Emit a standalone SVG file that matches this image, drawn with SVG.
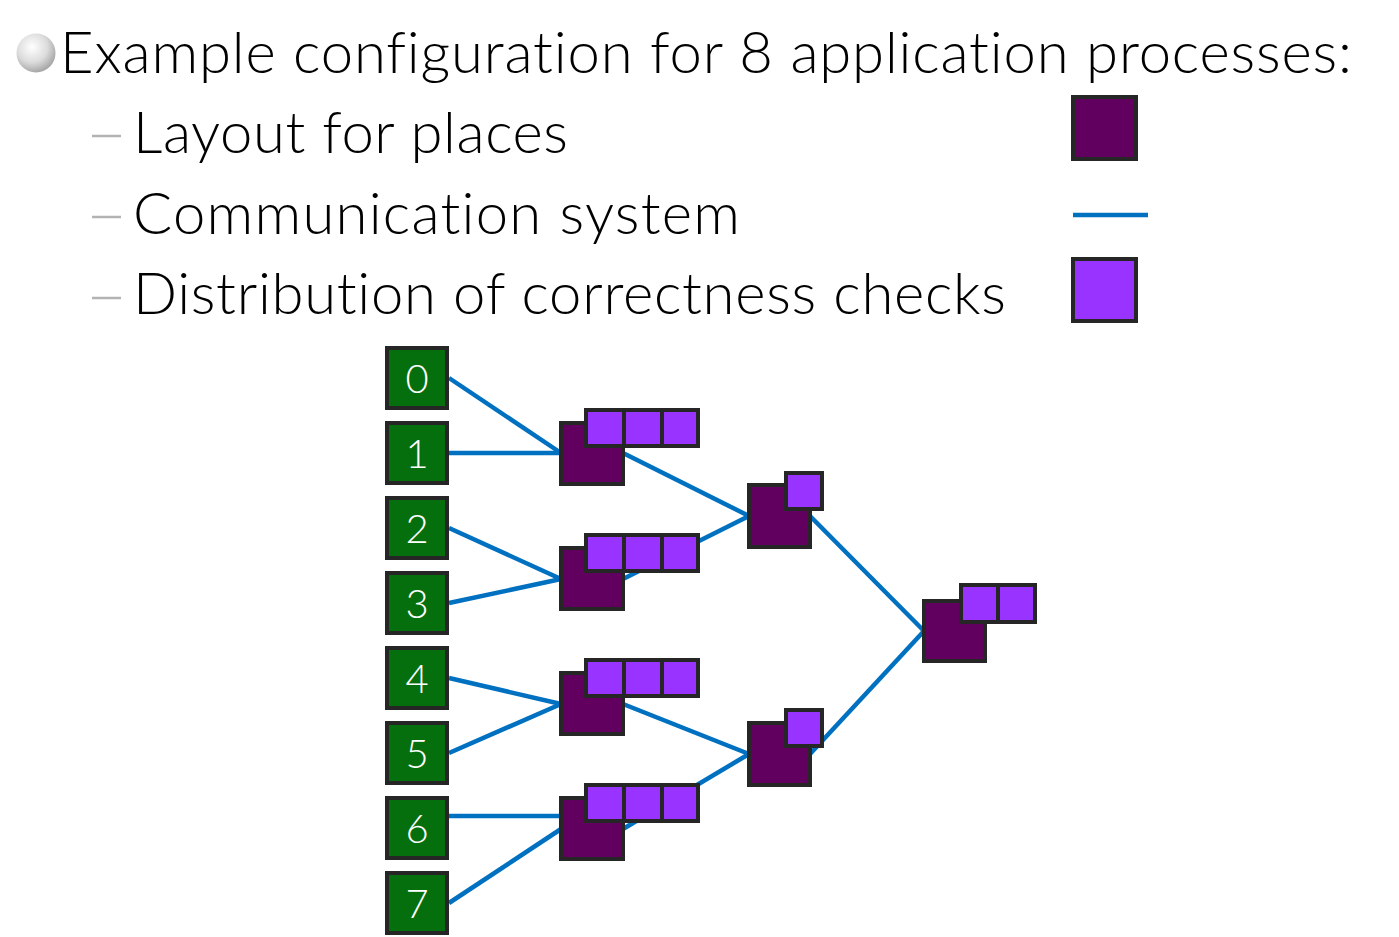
<svg xmlns="http://www.w3.org/2000/svg" width="1399" height="937" viewBox="0 0 1399 937">
<defs>
<radialGradient id="ball" cx="0.4" cy="0.35" r="0.65">
<stop offset="0" stop-color="#ffffff"/>
<stop offset="0.6" stop-color="#dcdcdc"/>
<stop offset="1" stop-color="#a8a8a8"/>
</radialGradient>
</defs>
<style>
.t{font-family:Lato,"Liberation Sans",Arial,sans-serif;font-weight:300;font-size:58px;fill:#000;font-variant-ligatures:none;font-feature-settings:"liga" 0,"dlig" 0,"clig" 0}
.dash{stroke:#b3b3b3;stroke-width:2.5}
.proc{fill:#066F0D;stroke:#262626;stroke-width:4}
.num{font-family:Lato,"Liberation Sans",Arial,sans-serif;font-weight:300;font-size:40px;fill:#fff;text-anchor:middle}
.place{fill:#620060;stroke:#262626;stroke-width:4}
.chk{fill:#9933FF;stroke:#262626;stroke-width:4}
.c{stroke:#0070C0;stroke-width:4.5;fill:none}
</style>
<rect width="1399" height="937" fill="#fff"/>
<g id="text">
<circle cx="36" cy="53" r="19.5" fill="url(#ball)"/>
<text class="t" x="60" y="73" textLength="1292" lengthAdjust="spacing">Example configuration for 8 application processes:</text>
<line class="dash" x1="92" y1="136" x2="121" y2="136"/>
<text class="t" x="133" y="153" textLength="435" lengthAdjust="spacing">Layout for places</text>
<line class="dash" x1="92" y1="217" x2="121" y2="217"/>
<text class="t" x="133" y="234" textLength="607" lengthAdjust="spacing">Communication system</text>
<line class="dash" x1="92" y1="298" x2="121" y2="298"/>
<text class="t" x="133" y="314" textLength="873" lengthAdjust="spacing">Distribution of correctness checks</text>
</g>
<g id="legend">
<rect class="place" x="1073" y="97" width="63" height="62"/>
<line class="c" x1="1073" y1="215" x2="1148" y2="215"/>
<rect class="chk" x="1073" y="259" width="63" height="62"/>
</g>
<g id="connectors">
<line class="c" x1="449" y1="378" x2="561" y2="453"/>
<line class="c" x1="449" y1="453" x2="561" y2="453"/>
<line class="c" x1="449" y1="528" x2="561" y2="579"/>
<line class="c" x1="449" y1="603" x2="561" y2="579"/>
<line class="c" x1="449" y1="678" x2="561" y2="704"/>
<line class="c" x1="449" y1="753" x2="561" y2="704"/>
<line class="c" x1="449" y1="816" x2="561" y2="816"/>
<line class="c" x1="449" y1="903" x2="561" y2="829"/>
<line class="c" x1="623" y1="453" x2="749" y2="516"/>
<line class="c" x1="623" y1="579" x2="749" y2="516"/>
<line class="c" x1="623" y1="704" x2="749" y2="754"/>
<line class="c" x1="623" y1="829" x2="749" y2="754"/>
<line class="c" x1="810" y1="516" x2="924" y2="631"/>
<line class="c" x1="810" y1="754" x2="924" y2="631"/>
</g>
<g id="p0"><rect class="proc" x="387" y="348" width="60" height="60"/><text class="num" x="417" y="393">0</text></g>
<g id="p1"><rect class="proc" x="387" y="423" width="60" height="60"/><text class="num" x="417" y="468">1</text></g>
<g id="p2"><rect class="proc" x="387" y="498" width="60" height="60"/><text class="num" x="417" y="543">2</text></g>
<g id="p3"><rect class="proc" x="387" y="573" width="60" height="60"/><text class="num" x="417" y="618">3</text></g>
<g id="p4"><rect class="proc" x="387" y="648" width="60" height="60"/><text class="num" x="417" y="693">4</text></g>
<g id="p5"><rect class="proc" x="387" y="723" width="60" height="60"/><text class="num" x="417" y="768">5</text></g>
<g id="p6"><rect class="proc" x="387" y="798" width="60" height="60"/><text class="num" x="417" y="843">6</text></g>
<g id="p7"><rect class="proc" x="387" y="873" width="60" height="60"/><text class="num" x="417" y="918">7</text></g>
<g id="l1a"><rect class="place" x="561" y="423" width="62" height="61"/><rect class="chk" x="586" y="410" width="38" height="36"/><rect class="chk" x="624" y="410" width="38" height="36"/><rect class="chk" x="662" y="410" width="36" height="36"/></g>
<g id="l1b"><rect class="place" x="561" y="548" width="62" height="61"/><rect class="chk" x="586" y="535" width="38" height="36"/><rect class="chk" x="624" y="535" width="38" height="36"/><rect class="chk" x="662" y="535" width="36" height="36"/></g>
<g id="l1c"><rect class="place" x="561" y="673" width="62" height="61"/><rect class="chk" x="586" y="660" width="38" height="36"/><rect class="chk" x="624" y="660" width="38" height="36"/><rect class="chk" x="662" y="660" width="36" height="36"/></g>
<g id="l1d"><rect class="place" x="561" y="798" width="62" height="61"/><rect class="chk" x="586" y="785" width="38" height="36"/><rect class="chk" x="624" y="785" width="38" height="36"/><rect class="chk" x="662" y="785" width="36" height="36"/></g>
<g id="l2a"><rect class="place" x="749" y="485" width="61" height="62"/><rect class="chk" x="786" y="473" width="36" height="36"/></g>
<g id="l2b"><rect class="place" x="749" y="723" width="61" height="62"/><rect class="chk" x="786" y="710" width="36" height="36"/></g>
<g id="l3"><rect class="place" x="924" y="601" width="61" height="60"/><rect class="chk" x="961" y="585" width="37" height="37"/><rect class="chk" x="998" y="585" width="37" height="37"/></g>
</svg>
